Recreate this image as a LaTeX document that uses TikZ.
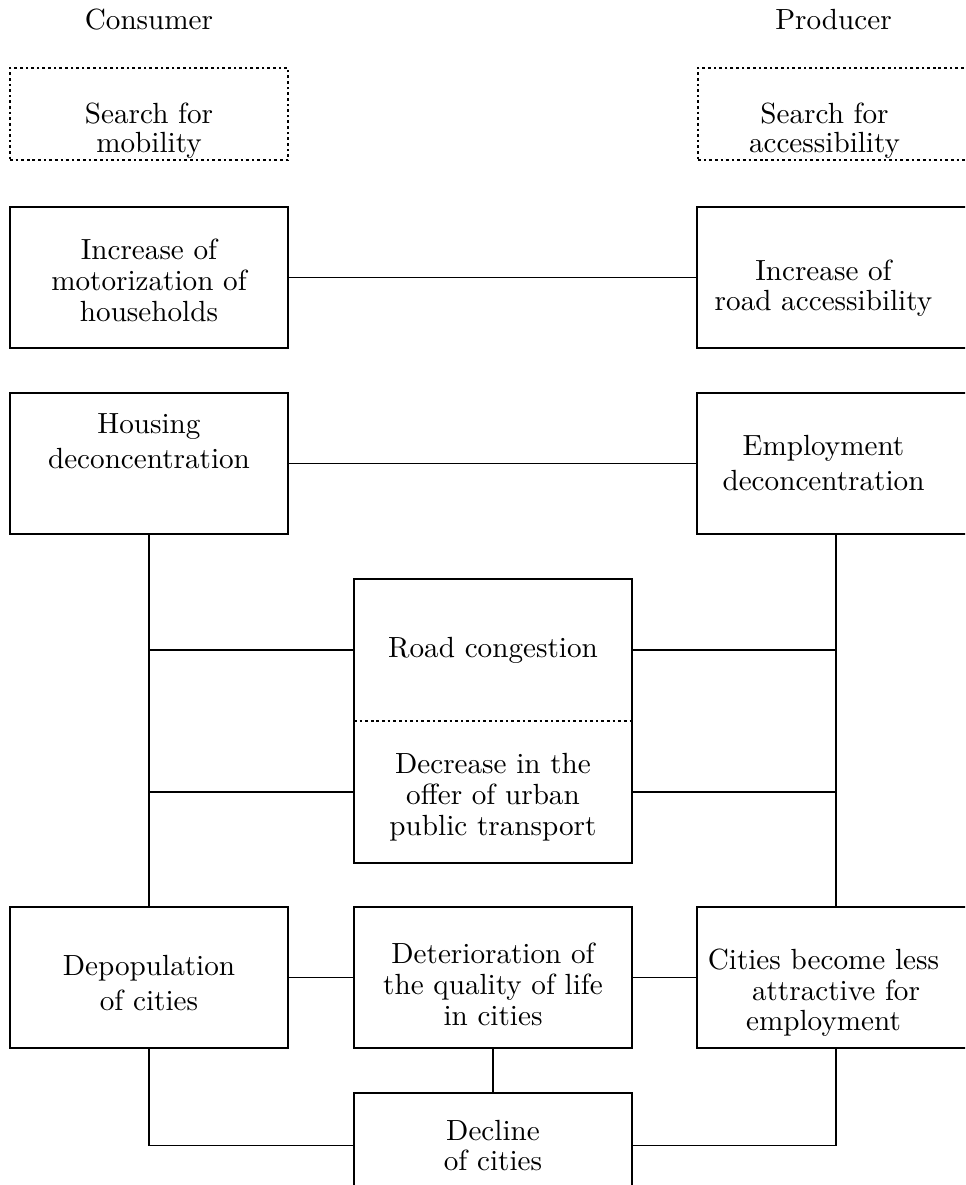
\documentclass[tikz,border=0pt]{standalone}
\usepackage{fontspec}
\usepackage{tikz}
\usetikzlibrary{positioning, fit, calc}
\newfontfamily\diagrm{lmroman10-regular.otf}
\newcommand{\diagfont}{\diagrm\fontsize{16.6}{17.6}\selectfont}
\newcommand{\loosefont}{\diagrm\fontsize{16.6}{19.9}\selectfont}
\newcommand{\goalfont}{\diagrm\fontsize{16.6}{16.5}\selectfont}
\newcommand{\padtop}[1]{\rule{0pt}{#1}}
\newcommand{\padbot}[1]{\rule[-#1]{0pt}{#1}}
\newcommand{\nudge}{\hspace*{0.5cm}}
\tikzstyle{box} = [rectangle, draw=black, line width=1.1pt, outer sep=0pt, minimum width=5.56cm, minimum height=2.82cm, align=center, inner sep=0pt, font=\diagfont]
\tikzstyle{goal} = [rectangle, draw=black, line width=1.1pt, outer sep=0pt, dash pattern=on 1.5pt off 1.7pt, minimum width=5.56cm, minimum height=1.84cm, align=center, inner sep=0pt, font=\goalfont]
\tikzstyle{half} = [rectangle, outer sep=0pt, minimum width=5.56cm, minimum height=2.84cm, align=center, inner sep=0pt, font=\diagfont]
\tikzstyle{head} = [anchor=base, font=\diagfont]
\tikzstyle{link} = [line width=0.9pt]

\begin{document}
\begin{tikzpicture}[node distance=0.9cm and 1.3cm]
    \useasboundingbox (0,0) rectangle (19.3,-23.7);
    \clip (0,0) rectangle (19.3,-23.7);
    \node[head] (consumer) at (2.98,-0.6) {Consumer};
    \node[goal] (mobility) at (2.98,-2.28) {\padtop{1.06cm}Search for\\mobility};
    \node[box, below=0.94cm of mobility] (motor) {\padtop{0.54cm}Increase of\\motorization of\\households};
    \node[box, below=of motor, font=\loosefont] (housing) {Housing\\deconcentration\padbot{0.9cm}};
    \node[half, below right=0.9cm and 1.32cm of housing] (congestion) {Road congestion};
    \node[half, below=0cm of congestion] (transport) {\padtop{0.62cm}Decrease in the\\offer of urban\\public transport};
    \node[box, below=0.88cm of transport] (quality) {\padtop{0.7cm}Deterioration of\\the quality of life\\in cities};
    \node[box, left=1.32cm of quality, font=\loosefont] (depop) {\padtop{0.64cm}Depopulation\\of cities};
    \node[box, right=1.3cm of quality] (attract) {\padtop{1.02cm}Cities become less\nudge\\attractive for\nudge\\employment\nudge};
    \node[box, below=of quality, minimum height=2.1cm] (decline) {Decline\\of cities};
    \node[box, right=8.18cm of motor] (road) {\padtop{0.84cm}Increase of\nudge\\road accessibility\nudge};
    \node[box, right=8.18cm of housing, font=\loosefont] (employ) {Employment\nudge\\deconcentration\nudge};
    \node[goal, right=8.2cm of mobility] (access) {\padtop{1.06cm}Search for\nudge\\accessibility\nudge};
    \node[head] (producer) at (16.67,-0.6) {Producer};
    \node[draw, line width=1.1pt, inner sep=0pt, outer sep=0pt, fit=(congestion)(transport)] (middle) {};

    \draw[line width=1.1pt, dash pattern=on 1.5pt off 1.7pt] (congestion.south west) -- (congestion.south east);
    \draw[link] (motor) -- (road);
    \draw[link] (housing) -- (employ);
    \draw[link] (housing) -- (depop);
    \draw[link] (employ) -- (attract);
    \draw[link] (congestion.west) -- (congestion.west -| housing.south);
    \draw[link] (congestion.east) -- (congestion.east -| employ.south);
    \draw[link] (transport.west) -- (transport.west -| housing.south);
    \draw[link] (transport.east) -- (transport.east -| employ.south);
    \draw[link] (depop) -- (quality);
    \draw[link] (quality) -- (attract);
    \draw[link] (quality) -- (decline);
    \draw[link] (depop.south) |- (decline.west);
    \draw[link] (attract.south) |- (decline.east);
\end{tikzpicture}
\end{document}
